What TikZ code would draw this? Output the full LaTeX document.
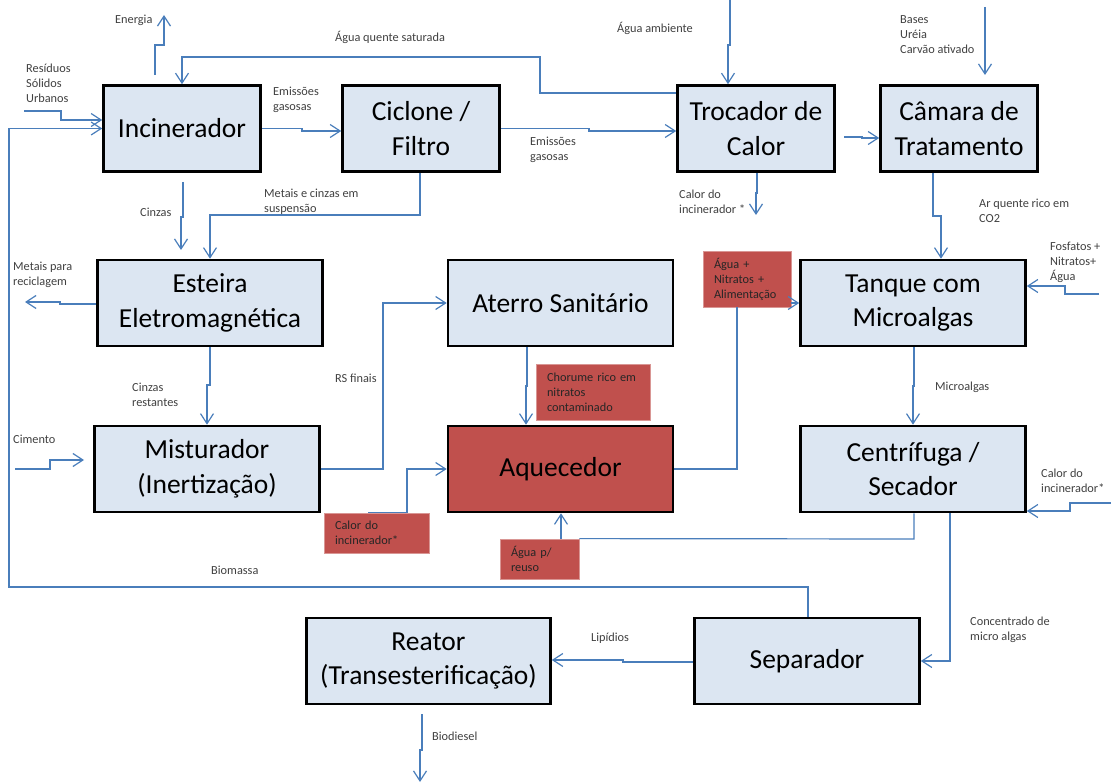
\documentclass[tikz,border=0pt]{standalone}
\usepackage{fontspec}
\setmainfont{Carlito}
\usetikzlibrary{arrows.meta}
\definecolor{boxblue}{HTML}{DCE6F2}
\definecolor{heatred}{HTML}{C0504D}
\definecolor{flowblue}{HTML}{4A7EBB}
\definecolor{labelgray}{HTML}{404040}

\begin{document}
\begin{tikzpicture}[x=1pt, y=-1pt,
    unit/.style={draw=black, line width=2.6pt, fill=boxblue, align=center, minimum height=86pt, font=\fontsize{27.5}{34.5}\selectfont},
    narrow/.style={unit, minimum width=157pt},
    wide/.style={unit, minimum width=225pt},
    heat/.style={fill=heatred, draw=heatred!60!white, line width=0.8pt, align=left, inner xsep=11pt, inner ysep=0pt, text=black!85, font=\fontsize{12.3}{15}\selectfont},
    lbl/.style={anchor=west, align=left, inner sep=0pt, text=labelgray, font=\fontsize{12.3}{15}\selectfont},
    flow/.style={draw=flowblue, line width=1.2pt, -{Straight Barb[length=10pt,width=13pt]}},
    wire/.style={draw=flowblue, line width=1.2pt}]
    % Fix the page size
    \useasboundingbox (0,0) rectangle (1111,783);

    % Draw the process units
    \node[narrow] (incin) at (182,128.5) {Incinerador};
    \node[narrow] (ciclone) at (421,128.5) {Ciclone /\\Filtro};
    \node[narrow] (trocador) at (756,128.5) {Trocador de\\Calor};
    \node[narrow] (camara) at (959,128.5) {Câmara de\\Tratamento};
    \node[wide] (esteira) at (210,303) {Esteira\\Eletromagnética};
    \node[wide] (aterro) at (560.5,303) {Aterro Sanitário};
    \node[wide] (tanque) at (913,303) {Tanque com\\Microalgas};
    \node[wide] (misturador) at (207,469) {Misturador\\(Inertização)};
    \node[wide, fill=heatred] (aquecedor) at (560.5,469) {Aquecedor};
    \node[wide] (centrifuga) at (913,469) {Centrífuga /\\Secador};
    \node[unit, minimum width=244pt] (reator) at (428.5,661) {Reator\\(Transesterificação)};
    \node[wide] (separador) at (807,661) {Separador};

    % Draw the red stream boxes
    \node[heat, text width=83pt, minimum height=40pt] (calorMist) at (376.5,533) {Calor do\\incinerador*};
    \node[heat, text width=92pt, minimum height=56pt] (chorume) at (593,392) {Chorume rico em\\nitratos\\contaminado};
    \node[heat, text width=66pt, minimum height=56pt] (aguaNitr) at (747,279) {Água +\\Nitratos +\\Alimentação};
    \node[heat, text width=57pt, minimum height=40pt] (reuso) at (539.5,559) {Água p/\\reuso};

    % Stream labels
    \node[lbl] (lEnergia) at (115,20) {Energia};
    \node[lbl] (lResiduos) at (26,83.5) {Resíduos\\Sólidos\\Urbanos};
    \node[lbl] (lAguaQuente) at (335,37) {Água quente saturada};
    \node[lbl] (lEmissoesA) at (273,99.5) {Emissões\\gasosas};
    \node[lbl] (lEmissoesB) at (530,150) {Emissões\\gasosas};
    \node[lbl] (lMetaisCinzas) at (264,201.5) {Metais e cinzas em\\suspensão};
    \node[lbl] (lCinzas) at (140,212) {Cinzas};
    \node[lbl] (lAguaAmb) at (617,28) {Água ambiente};
    \node[lbl] (lCalorTroc) at (679,201.5) {Calor do\\incinerador *};
    \node[lbl] (lBases) at (900,35) {Bases\\Uréia\\Carvão ativado};
    \node[lbl] (lArQuente) at (979,210.5) {Ar quente rico em\\CO2};
    \node[lbl] (lFosfatos) at (1050,262) {Fosfatos +\\Nitratos+\\Água};
    \node[lbl] (lMetaisRec) at (13,274.5) {Metais para\\reciclagem};
    \node[lbl] (lCinzasRest) at (132,394.5) {Cinzas\\restantes};
    \node[lbl] (lRSfinais) at (335,378) {RS finais};
    \node[lbl] (lCimento) at (13,439) {Cimento};
    \node[lbl] (lBiomassa) at (211,570) {Biomassa};
    \node[lbl] (lMicroalgas) at (935,387) {Microalgas};
    \node[lbl] (lCalorCentr) at (1041,480.5) {Calor do\\incinerador*};
    \node[lbl] (lConcentrado) at (970,629.5) {Concentrado de\\micro algas};
    \node[lbl] (lLipidios) at (591,638) {Lipídios};
    \node[lbl] (lBiodiesel) at (432,736) {Biodiesel};

    % Free ends of the streams
    \coordinate (energiaIn) at (155,75);
    \coordinate (energiaOut) at (164,15);
    \coordinate (rsuIn) at (24,111);
    \coordinate (cinzasIn) at (183,182);
    \coordinate (cinzasOut) at (181,250);
    \coordinate (aguaAmbIn) at (730,0);
    \coordinate (trocOut) at (844,137);
    \coordinate (calorTrocOut) at (756,215);
    \coordinate (basesIn) at (985,7);
    \coordinate (basesOut) at (985,75);
    \coordinate (fosfIn) at (1099,294);
    \coordinate (metaisOut) at (25,302);
    \coordinate (cimentoIn) at (15,469);
    \coordinate (cimentoOut) at (84,460);
    \coordinate (calorCentrIn) at (1111,503);
    \coordinate (bioIn) at (422,714);
    \coordinate (bioOut) at (420,782);

    % Top row streams
    \draw[flow] (energiaIn) -- (155,45) -- (164,45) -- (energiaOut);
    \draw[flow] (rsuIn) -- (61,111) -- (61,120) -- (61,120 -| incin.west);
    \draw[flow] (trocador.west |- 0,93) -- (540,93) -- (540,57) -| (incin.north);
    \draw[flow] (incin.east) -- (302,128.5) -- (302,131) -- (ciclone.west |- 0,131);
    \draw[flow] (ciclone.east) -- (589,128.5) -- (589,131) -- (trocador.west |- 0,131);
    \draw[flow] (aguaAmbIn) -- (730,45) -- (728,45) -- (trocador.north -| 728,0);
    \draw[flow] (trocOut) -- (862,137) -- (862,138) -- (camara.west |- 0,138);
    \draw[flow] (trocador.south -| 757,0) -- (757,193) -- (756,193) -- (calorTrocOut);
    \draw[flow] (basesIn) -- (basesOut);

    % Streams down to the second row
    \draw[flow] (cinzasIn) -- (183,217) -- (181,217) -- (cinzasOut);
    \draw[flow] (ciclone.south -| 420,0) -- (420,215) -| (esteira.north);
    \draw[flow] (camara.south -| 933,0) -- (933,216) -- (941,216) -- (tanque.north -| 941,0);
    \draw[flow] (fosfIn) -- (1065,294) -- (1065,286) -- (tanque.east |- 0,286);
    \draw[flow] (esteira.west |- 0,304) -- (60,304) -- (60,302) -- (metaisOut);

    % Middle streams
    \draw[flow] (esteira.south) -- (210,385) -| (misturador.north);
    \draw[flow] (cimentoIn) -- (50,469) -- (50,460) -- (cimentoOut);
    \draw[flow] (misturador.east) -- (383,469) |- (aterro.west);
    \draw[flow] (calorMist.north -| 368,0) -- (calorMist.north -| 407,0) -- (407,469) -- (aquecedor.west);
    \draw[flow] (aterro.south -| 527,0) -- (527,386) -- (526,386) -- (aquecedor.north -| 526,0);
    \draw[wire] (aquecedor.east) -- (737,469) -- (aguaNitr.south -| 737,0);
    \draw[flow] (aguaNitr.east |- tanque.west) -- (tanque.west);
    \draw[flow] (tanque.south -| 914,0) -- (914,386) -- (913,386) -- (centrifuga.north);
    \draw[flow] (calorCentrIn) -- (1070,503) -- (1070,511) -- (centrifuga.east |- 0,511);
    \draw[wire] (centrifuga.south -| 914,0) -- (914,539) -- (reuso.north east);
    \draw[flow] (reuso.north -| 561,0) -- (aquecedor.south -| 561,0);

    % Bottom streams
    \draw[flow] (centrifuga.south -| 950,0) |- (separador.east);
    \draw[flow] (separador.north -| 808,0) -- (808,587) -- (9,587) |- (incin.west);
    \draw[flow] (separador.west |- 0,662) -- (623,662) -- (623,660) -- (reator.east |- 0,660);
    \draw[flow] (bioIn) -- (422,750) -- (420,750) -- (bioOut);
\end{tikzpicture}
\end{document}
